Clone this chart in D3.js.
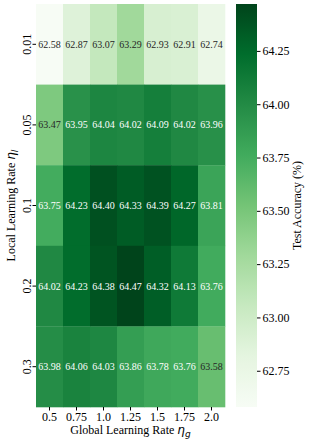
<!DOCTYPE html>
<html>
<head>
<meta charset="utf-8">
<script src="https://cdn.jsdelivr.net/npm/d3@7"></script>
<style>
  body { margin: 0; background: #fff; }
  text { font-family: "Liberation Serif", "Times New Roman", serif; }
</style>
</head>
<body>
<script>
// local learning rates (rows) and global learning rates (columns)
var etaLocal = ["0.01", "0.05", "0.1", "0.2", "0.3"];
var etaGlobal = ["0.5", "0.75", "1.0", "1.25", "1.5", "1.75", "2.0"];
var row001 = [62.58, 62.87, 63.07, 63.29, 62.93, 62.91, 62.74];
var row005 = [63.47, 63.95, 64.04, 64.02, 64.09, 64.02, 63.96];
var row01  = [63.75, 64.23, 64.40, 64.33, 64.39, 64.27, 63.81];
var row02  = [64.02, 64.23, 64.38, 64.47, 64.32, 64.13, 63.76];
var row03  = [63.98, 64.06, 64.03, 63.86, 63.78, 63.76, 63.58];
var cbTicks = [62.75, 63.00, 63.25, 63.50, 63.75, 64.00, 64.25];

var rows = [row001, row005, row01, row02, row03];
var cells = [];
rows.forEach(function (r, i) {
    r.forEach(function (v, j) {
        cells.push({ row: etaLocal[i], col: etaGlobal[j], value: v });
    });
});

var width = 309, height = 444;
var svg = d3.select("body").append("svg")
    .attr("width", width)
    .attr("height", height);

// note: "top" is a reserved window global, so use other names
var x0 = 36, x1 = 225, y0 = 4, y1 = 407;

var x = d3.scaleBand().domain(etaGlobal).range([x0, x1]);
var y = d3.scaleBand().domain(etaLocal).range([y0, y1]);

var allVals = cells.map(function (d) { return d.value; });
var vmin = d3.min(allVals), vmax = d3.max(allVals);
// matplotlib "Greens" = linear ramp through the 9 colorbrewer colors
var greens = ["#f7fcf5", "#e5f5e0", "#c7e9c0", "#a1d99b", "#74c476",
              "#41ab5d", "#238b45", "#006d2c", "#00441b"];
var color = d3.scaleSequential(d3.piecewise(d3.interpolateRgb, greens)).domain([vmin, vmax]);

// luminance rule like seaborn
function lum(c) {
    var rgb = d3.rgb(c);
    var ch = [rgb.r, rgb.g, rgb.b].map(function (v) {
        v = v / 255;
        return v <= 0.03928 ? v / 12.92 : Math.pow((v + 0.055) / 1.055, 2.4);
    });
    return 0.2126 * ch[0] + 0.7152 * ch[1] + 0.0722 * ch[2];
}

svg.append("g").selectAll("rect")
    .data(cells)
    .enter().append("rect")
    .attr("x", function (d) { return x(d.col); })
    .attr("y", function (d) { return y(d.row); })
    .attr("width", x.bandwidth() + 0.3)
    .attr("height", y.bandwidth() + 0.3)
    .attr("fill", function (d) { return color(d.value); });

svg.append("g").selectAll("text")
    .data(cells)
    .enter().append("text")
    .attr("x", function (d) { return x(d.col) + x.bandwidth() / 2; })
    .attr("y", function (d) { return y(d.row) + y.bandwidth() / 2; })
    .attr("text-anchor", "middle")
    .attr("dominant-baseline", "central")
    .attr("font-size", 10)
    .attr("fill", function (d) { return lum(color(d.value)) > 0.408 ? "#262626" : "#fff"; })
    .text(function (d) { return d.value.toFixed(2); });

// x axis
var xAxis = svg.append("g")
    .attr("transform", "translate(0," + y1 + ")")
    .call(d3.axisBottom(x).tickSize(3.5).tickPadding(2));
xAxis.select(".domain").remove();
xAxis.selectAll("text").attr("font-size", 12).attr("fill", "#000")
    .style("font-family", "Liberation Serif");

// y axis, labels rotated
var yAxis = svg.append("g")
    .attr("transform", "translate(" + x0 + ",0)")
    .call(d3.axisLeft(y).tickSize(3.5).tickPadding(2));
yAxis.select(".domain").remove();
yAxis.selectAll("text").remove();
svg.append("g").selectAll("text")
    .data(etaLocal)
    .enter().append("text")
    .attr("transform", function (d) {
        return "translate(31," + (y(d) + y.bandwidth() / 2) + ") rotate(-90)";
    })
    .attr("text-anchor", "middle")
    .attr("font-size", 12)
    .text(function (d) { return d; });

// axis titles
var xt = svg.append("text")
    .attr("x", (x0 + x1) / 2)
    .attr("y", 434)
    .attr("text-anchor", "middle")
    .attr("font-size", 12);
xt.append("tspan").text("Global Learning Rate ");
xt.append("tspan").attr("font-style", "italic").style("font-family", "DejaVu Sans").attr("font-size", 12).text("η");
xt.append("tspan").attr("font-style", "italic").style("font-family", "DejaVu Sans").attr("font-size", 9).attr("dy", 3).text("g");

var yt = svg.append("text")
    .attr("transform", "translate(15," + (y0 + y1) / 2 + ") rotate(-90)")
    .attr("text-anchor", "middle")
    .attr("font-size", 12);
yt.append("tspan").text("Local Learning Rate ");
yt.append("tspan").attr("font-style", "italic").style("font-family", "DejaVu Sans").attr("font-size", 12).text("η");
yt.append("tspan").attr("font-style", "italic").style("font-family", "DejaVu Sans").attr("font-size", 9).attr("dy", 3).text("l");

// colorbar
var cbX = 236, cbW = 21;
var cbScale = d3.scaleLinear().domain([vmin, vmax]).range([y1, y0]);
var defs = svg.append("defs");
var grad = defs.append("linearGradient")
    .attr("id", "cbgrad")
    .attr("x1", 0).attr("y1", 1).attr("x2", 0).attr("y2", 0);
d3.range(0, 1.0001, 0.025).forEach(function (t) {
    grad.append("stop")
        .attr("offset", t)
        .attr("stop-color", color(vmin + t * (vmax - vmin)));
});
svg.append("rect")
    .attr("x", cbX).attr("y", y0)
    .attr("width", cbW).attr("height", y1 - y0)
    .attr("fill", "url(#cbgrad)");

var cbAxis = svg.append("g")
    .attr("transform", "translate(" + (cbX + cbW) + ",0)")
    .call(d3.axisRight(cbScale).tickValues(cbTicks).tickFormat(d3.format(".2f")).tickSize(3.5).tickPadding(2));
cbAxis.select(".domain").remove();
cbAxis.selectAll("text").attr("font-size", 12).attr("fill", "#000")
    .style("font-family", "Liberation Serif");

svg.append("text")
    .attr("transform", "translate(301," + (y0 + y1) / 2 + ") rotate(-90)")
    .attr("text-anchor", "middle")
    .attr("font-size", 12)
    .text("Test Accuracy (%)");
</script>
</body>
</html>
